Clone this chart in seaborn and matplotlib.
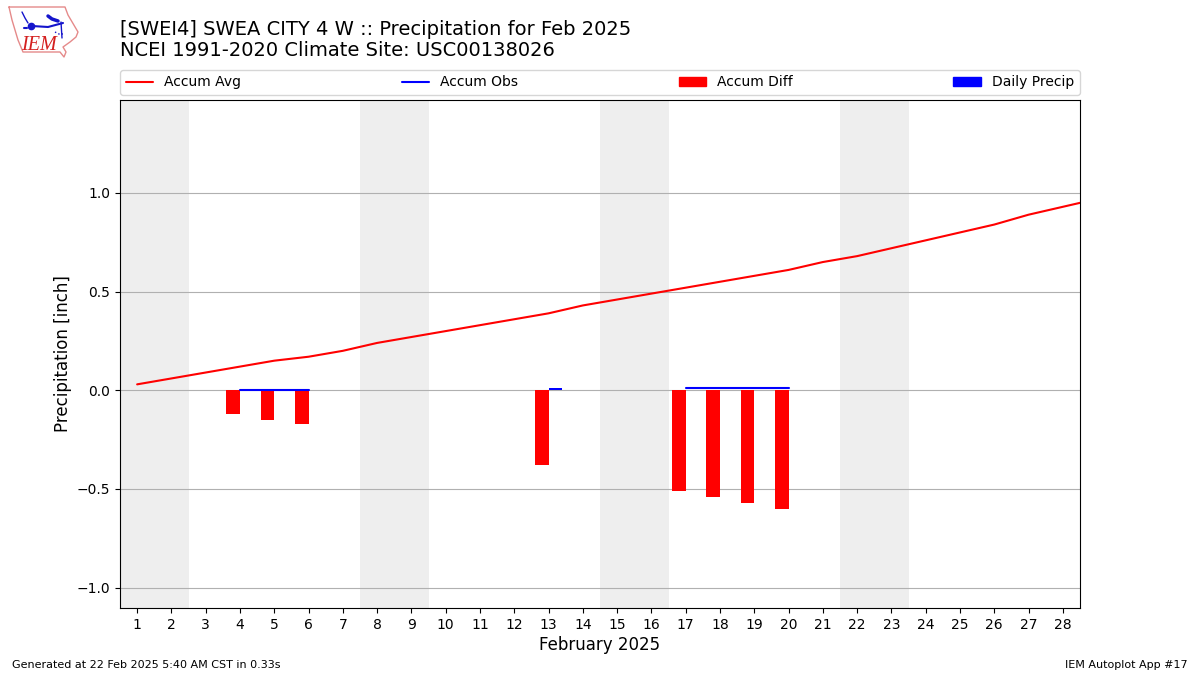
import matplotlib
matplotlib.use("Agg")
import matplotlib.pyplot as plt
import pandas as pd
import seaborn as sns
from matplotlib.lines import Line2D
from matplotlib.patches import Patch

sns.set_theme(style="white", rc={"axes.edgecolor": "black", "text.color": "black",
                                 "axes.labelcolor": "black", "xtick.color": "black",
                                 "ytick.color": "black", "xtick.bottom": True, "ytick.left": True,
                                 "xtick.major.size": 3.5, "ytick.major.size": 3.5,
                                 "xtick.major.width": 0.8, "ytick.major.width": 0.8,
                                 "xtick.major.pad": 3.5, "ytick.major.pad": 3.5,
                                 "axes.labelpad": 3.3})
plt.rcParams["font.family"] = ["DejaVu Sans"]

days = list(range(1, 30))
accum_avg = [0.03, 0.06, 0.09, 0.12, 0.15, 0.17, 0.20, 0.24, 0.27, 0.30, 0.33, 0.36, 0.39, 0.43,
             0.46, 0.49, 0.52, 0.55, 0.58, 0.61, 0.65, 0.68, 0.72, 0.76, 0.80, 0.84, 0.89, 0.93, 0.97]
obs_days = [4, 5, 6, 13, 17, 18, 19, 20]
accum_obs = [0.0, 0.0, 0.0, 0.01, 0.01, 0.01, 0.01, 0.01]
accum_diff = [-0.12, -0.15, -0.17, -0.38, -0.51, -0.54, -0.57, -0.60]
daily_precip = [0.0, 0.0, 0.0, 0.01, 0.0, 0.0, 0.0, 0.0]
weekend_starts = [0.5, 7.5, 14.5, 21.5]
x_ticks = list(range(1, 29))
y_ticks = [-1.0, -0.5, 0.0, 0.5, 1.0]
title_lines = ["[SWEI4] SWEA CITY 4 W :: Precipitation for Feb 2025",
               "NCEI 1991-2020 Climate Site: USC00138026"]

fig = plt.figure(figsize=(12, 6.75), dpi=100)
ax = fig.add_axes([0.1, 0.0993, 0.8, 0.7526])

for start in weekend_starts:
    ax.axvspan(start, start + 2, color="#eeeeee", lw=0, zorder=0)

bars = pd.DataFrame({
    "day": obs_days * 2,
    "value": accum_diff + daily_precip,
    "kind": ["Accum Diff"] * len(obs_days) + ["Daily Precip"] * len(obs_days),
})
sns.barplot(data=bars, x="day", y="value", hue="kind", native_scale=True, dodge=True,
            palette={"Accum Diff": "#ff0000", "Daily Precip": "#0000ff"}, saturation=1,
            width=0.8, gap=0, errorbar=None, linewidth=0, legend=False, ax=ax, zorder=3)

sns.lineplot(x=days, y=accum_avg, color="#ff0000", lw=1.5, ax=ax, zorder=4, errorbar=None)
# observed accumulation has gaps: one segment per contiguous run
segments = [(obs_days[:3], accum_obs[:3]), (obs_days[4:], accum_obs[4:])]
for seg_x, seg_y in segments:
    sns.lineplot(x=seg_x, y=seg_y, color="#0000ff", lw=1.5, ax=ax, zorder=4, errorbar=None)

ax.set_xlim(0.5, 28.5)
ax.set_ylim(-1.1035, 1.4715)
ax.set_xticks(x_ticks)
ax.set_xticklabels([str(d) for d in x_ticks], fontsize=10)
ax.set_yticks(y_ticks)
ax.set_yticklabels([f"{v:.1f}".replace("-", "\u2212") for v in y_ticks], fontsize=10)
ax.yaxis.grid(True, color="#b0b0b0", lw=0.8)
ax.xaxis.grid(False)
ax.set_axisbelow(True)
ax.set_xlabel("February 2025", fontsize=12)
ax.set_ylabel("Precipitation [inch]", fontsize=12)
for side in ax.spines.values():
    side.set_visible(True)
    side.set_color("black")
    side.set_linewidth(0.8)

handles = [Line2D([], [], color="#ff0000", lw=1.5), Line2D([], [], color="#0000ff", lw=1.5),
           Patch(color="#ff0000"), Patch(color="#0000ff")]
ax.legend(handles, ["Accum Avg", "Accum Obs", "Accum Diff", "Daily Precip"], ncol=4, mode="expand",
          loc="lower left", bbox_to_anchor=(0, 1.0098, 1, 0.05), borderaxespad=0, fontsize=10,
          frameon=True, fancybox=True, framealpha=0.8, edgecolor="#cccccc")

fig.text(0.1, 0.9115, title_lines[1], fontsize=14, va="bottom", ha="left")
fig.text(0.1, 0.9425, title_lines[0], fontsize=14, va="bottom", ha="left")
fig.text(0.01, 0.0067, "Generated at 22 Feb 2025 5:40 AM CST in 0.33s", fontsize=8, va="bottom")
fig.text(0.99, 0.0067, "IEM Autoplot App #17", fontsize=8, va="bottom", ha="right")

# logo (decorative, pixel-based sketch)
logo = fig.add_axes([0, 1 - 60 / 675, 85 / 1200, 60 / 675])
logo.set_xlim(0, 85)
logo.set_ylim(60, 0)
logo.axis("off")
logo.plot([9, 65, 68, 78, 76, 70, 63, 66, 64, 60, 23, 18, 12, 9],
          [7, 7, 15, 32, 37, 42, 47, 52, 57, 52, 52, 40, 20, 7],
          color="#e58a8a", lw=1)
logo.plot([32, 48, 63], [26, 27, 23], color="#1515cc", lw=1.5)
logo.plot([31], [26], "o", color="#1515cc", ms=4.5)
logo.plot([48, 52, 58], [16, 19, 21], color="#1515cc", lw=2.5)
logo.plot([61, 62], [22, 38], color="#1515cc", lw=1)
logo.plot([22, 25, 28], [12, 18, 23], color="#1515cc", lw=1)
logo.plot([24, 27], [28, 28], color="#1515cc", lw=1.5)
logo.plot([55, 59, 63], [32, 34, 34], color="#1515cc", lw=1, ls=":")
logo.text(21, 45, "IEM", family="Liberation Serif", style="italic", color="#d42020", fontsize=14.5, va="center")

fig.savefig("out.png", dpi=100)
